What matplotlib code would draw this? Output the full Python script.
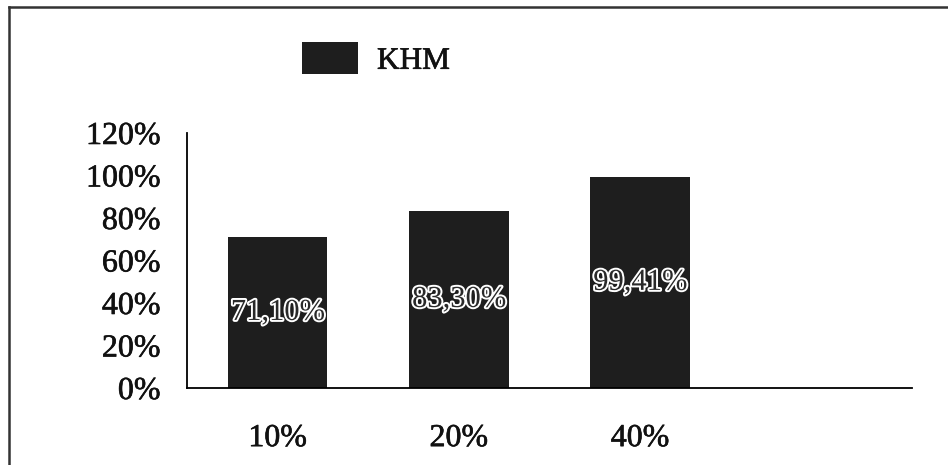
import matplotlib
matplotlib.use('Agg')
import matplotlib.pyplot as plt
import matplotlib.patheffects as pe
from matplotlib.lines import Line2D
from matplotlib.ticker import PercentFormatter

plt.rcParams['font.family'] = ['Liberation Serif', 'DejaVu Serif']

# data
categories = ['10%', '20%', '40%']
khm = [71.10, 83.30, 99.41]
bar_text = ['71,10%', '83,30%', '99,41%']
yticks = [0, 20, 40, 60, 80, 100, 120]

fig = plt.figure(figsize=(9.48, 4.65), dpi=100)
ax = fig.add_axes([0.1973, 0.1656, 0.7647, 0.5484])

bars = ax.bar(range(len(categories)), khm, width=0.55, color='#1e1e1e',
              label='KHM')
ax.bar_label(bars, labels=bar_text, label_type='center', fontsize=22,
             color='#2a2a2a',
             path_effects=[pe.withStroke(linewidth=2.8, foreground='white')])

ax.set_xlim(-0.5, 3.5)
ax.set_ylim(0, 120)
ax.set_yticks(yticks)
ax.yaxis.set_major_formatter(PercentFormatter(decimals=0))
ax.set_xticks(range(len(categories)))
ax.set_xticklabels(categories)
ax.tick_params(axis='y', length=0, pad=19, labelsize=23)
ax.tick_params(axis='x', length=0, pad=26, labelsize=23)

# printed text looks a bit heavier in the scan
thick = [pe.withStroke(linewidth=0.45, foreground='#111111')]
for lbl in ax.get_xticklabels() + ax.get_yticklabels():
    lbl.set_color('#111111')
    lbl.set_path_effects(thick)

for s in ['top', 'right']:
    ax.spines[s].set_visible(False)
ax.spines['left'].set_linewidth(1.3)
ax.spines['bottom'].set_linewidth(1.3)

leg = fig.legend(handles=[bars], labels=['KHM'], frameon=False, fontsize=22.5,
                 loc='center left', bbox_to_anchor=(302/948, 1 - 59/465),
                 borderpad=0, borderaxespad=0, handlelength=1.8,
                 handleheight=1.2, handletextpad=0.6)
for t in leg.get_texts():
    t.set_color('#111111')
    t.set_path_effects(thick)

# scanned page border (top and left only)
fig.add_artist(Line2D([9/948, 1], [1 - 7/465, 1 - 7/465], color='#333333',
                      lw=1.8, transform=fig.transFigure))
fig.add_artist(Line2D([9/948, 9/948], [0, 1 - 7/465], color='#333333',
                      lw=1.8, transform=fig.transFigure))

fig.savefig('out.png', dpi=100)
